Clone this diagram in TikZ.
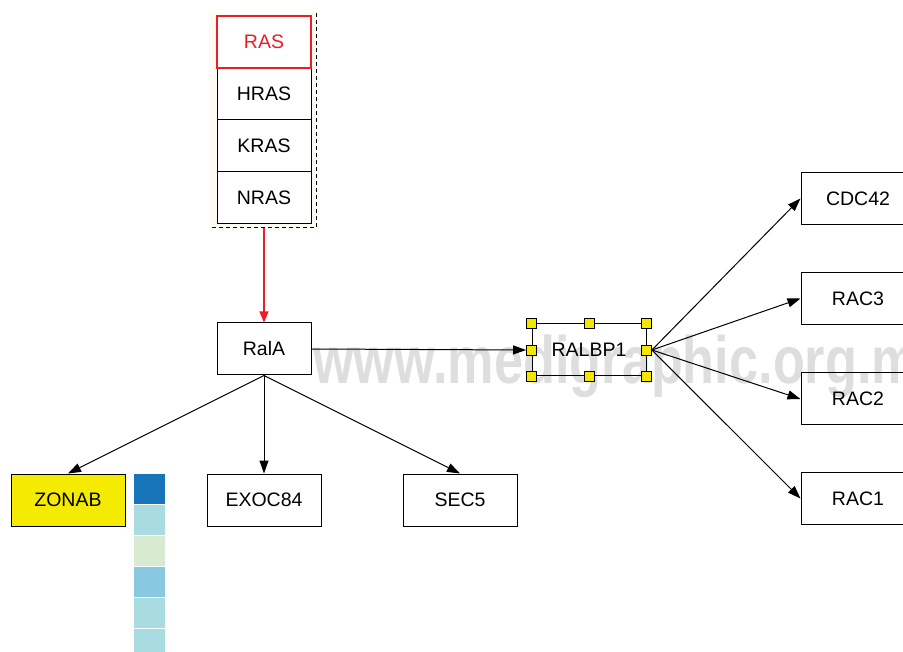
\documentclass[tikz,border=0pt]{standalone}
\usepackage{fontspec}
\setmainfont{Liberation Sans}
\usetikzlibrary{arrows.meta}
\definecolor{zyellow}{HTML}{F5EB00}
\definecolor{hyellow}{HTML}{F5E600}
\definecolor{cA}{HTML}{1874B8}
\definecolor{cB}{HTML}{A8DCE0}
\definecolor{cC}{HTML}{D8EAD0}
\definecolor{cD}{HTML}{88C8E0}
\definecolor{wm}{HTML}{DEDEDE}
\definecolor{rasred}{HTML}{EE1C25}
\definecolor{beige}{HTML}{FDFBF3}
\begin{document}
\begin{tikzpicture}[x=1pt,y=-1pt,
  box/.style={draw=black,line width=1pt,minimum width=94pt,minimum height=52pt,inner sep=0pt,
    font=\fontsize{19.5}{21}\selectfont},
  widebox/.style={box,minimum width=114pt},
  handle/.style={draw=black,line width=0.8pt,fill=hyellow,minimum size=10pt,inner sep=0pt},
  arr/.style={line width=1pt,-{Triangle[length=13pt,width=9pt]}},
  swatch/.style={inner sep=0pt,minimum width=31pt,minimum height=30pt}]
\useasboundingbox (0,0) rectangle (903,652);
\clip (0,0) rectangle (903,652);
% watermark
\node[anchor=base west,inner sep=0pt,text=wm,font=\fontsize{67}{67}\selectfont\bfseries] (wmk) at (313,384) {\scalebox{0.78}[1]{www.medigraphic.org.mx}};
% RAS group
\fill[beige] (209,12) rectangle (316,228);
\draw[line width=1pt,dash pattern=on 4pt off 3pt] (316,13) -- (316,228) -- (212,228);
\node[box,fill=white] (hras) at (264,94) {HRAS};
\node[box,fill=white] (kras) at (264,146) {KRAS};
\node[box,fill=white] (nras) at (264,198) {NRAS};
\node[box,draw=rasred,line width=1.6pt,text=rasred,fill=white] (ras) at (264,42) {RAS};
\coordinate (grp) at (264,228);
% main nodes
\node[box,fill=white] (rala) at (264,349) {RalA};
\node[box,minimum width=114pt] (ralbp) at (589,350) {RALBP1};
\foreach \p/\q in {north west/a,north/b,north east/c,west/d,east/e,south west/f,south/g,south east/h}
  \node[handle] (h\q) at (ralbp.\p) {};
\node[widebox,fill=zyellow] (zonab) at (68,500) {ZONAB};
\node[widebox] (exoc) at (264,500) {EXOC84};
\node[widebox] (sec5) at (460,500) {SEC5};
\node[box,minimum width=114pt] (cdc42) at (858,198.5) {CDC42};
\node[box,minimum width=114pt] (rac3) at (858,298.5) {RAC3};
\node[box,minimum width=114pt] (rac2) at (858,399) {RAC2};
\node[box,minimum width=114pt] (rac1) at (858,498.5) {RAC1};
% swatches
\node[swatch,fill=cA] (s1) at (149.5,488.5) {};
\node[swatch,fill=cB] (s2) at (149.5,520) {};
\node[swatch,fill=cC] (s3) at (149.5,550.5) {};
\node[swatch,fill=cD] (s4) at (149.5,581.5) {};
\node[swatch,fill=cB] (s5) at (149.5,612.5) {};
\node[swatch,fill=cB] (s6) at (149.5,643.5) {};
% connectors
\draw[line width=1.2pt,draw=rasred,-{Triangle[length=11pt,width=9pt]},rasred] (grp) -- (rala.north);
\draw[arr] (rala.east) -- (hd.west);
\draw[arr] (rala.south) -- (zonab.north);
\draw[arr] (rala.south) -- (exoc.north);
\draw[arr] (rala.south) -- (sec5.north);
\draw[arr] (he.east) -- (cdc42.west);
\draw[arr] (he.east) -- (rac3.west);
\draw[arr] (he.east) -- (rac2.west);
\draw[arr] (he.east) -- (rac1.west);
\end{tikzpicture}
\end{document}
